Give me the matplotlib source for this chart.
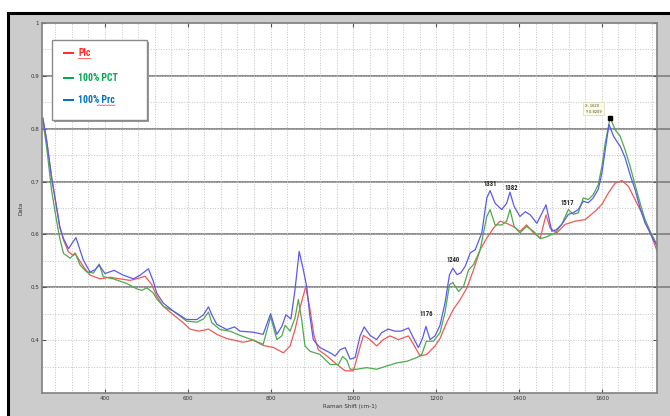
import matplotlib
matplotlib.use("Agg")
import matplotlib.pyplot as plt
from matplotlib.patches import Rectangle
import numpy as np

# Raman spectra (x = Raman shift, y = intensity)
plc_x = [250, 259, 271, 283, 291, 300, 312, 324, 328, 348, 364, 388, 412, 436, 461, 485, 497,
         513, 525, 541, 565, 589, 605, 626, 640, 650, 670, 694, 718, 734, 758, 782, 807, 831,
         847, 859, 871, 885, 895, 905, 915, 936, 960, 980, 1000, 1012, 1024, 1040, 1056, 1072,
         1088, 1109, 1133, 1145, 1161, 1177, 1197, 1209, 1225, 1241, 1258, 1274, 1290, 1306,
         1322, 1338, 1354, 1370, 1386, 1402, 1418, 1435, 1451, 1465, 1475, 1491, 1511, 1535,
         1559, 1584, 1600, 1616, 1632, 1648, 1664, 1680, 1696, 1712, 1735]
plc_y = [0.820, 0.779, 0.709, 0.652, 0.614, 0.589, 0.567, 0.560, 0.564, 0.539, 0.523, 0.516,
         0.519, 0.516, 0.513, 0.518, 0.521, 0.505, 0.483, 0.464, 0.448, 0.433, 0.421, 0.417,
         0.419, 0.421, 0.411, 0.403, 0.399, 0.396, 0.400, 0.390, 0.386, 0.376, 0.389, 0.420,
         0.461, 0.502, 0.458, 0.408, 0.382, 0.370, 0.354, 0.342, 0.342, 0.376, 0.409, 0.401,
         0.389, 0.401, 0.408, 0.401, 0.408, 0.392, 0.370, 0.373, 0.389, 0.403, 0.433, 0.458,
         0.477, 0.499, 0.533, 0.571, 0.593, 0.612, 0.625, 0.621, 0.615, 0.606, 0.618, 0.603,
         0.593, 0.637, 0.612, 0.603, 0.619, 0.625, 0.628, 0.644, 0.657, 0.679, 0.697, 0.702,
         0.691, 0.666, 0.641, 0.613, 0.565]

pct_x = [250, 259, 271, 283, 291, 300, 316, 328, 340, 356, 372, 386, 396, 420, 453, 477, 489,
         501, 517, 525, 541, 565, 597, 622, 638, 650, 658, 678, 702, 726, 758, 782, 800, 815,
         827, 835, 847, 859, 867, 875, 883, 895, 919, 944, 964, 974, 984, 992, 1008, 1032, 1056,
         1080, 1105, 1129, 1153, 1165, 1176, 1193, 1209, 1221, 1232, 1240, 1254, 1266, 1278,
         1290, 1306, 1322, 1330, 1342, 1358, 1370, 1378, 1388, 1402, 1418, 1435, 1451, 1465,
         1487, 1503, 1519, 1531, 1543, 1555, 1567, 1579, 1591, 1600, 1608, 1620, 1632, 1644,
         1656, 1668, 1680, 1692, 1704, 1720, 1735]
pct_y = [0.815, 0.766, 0.684, 0.627, 0.592, 0.564, 0.555, 0.565, 0.542, 0.529, 0.527, 0.544,
         0.520, 0.516, 0.507, 0.497, 0.494, 0.499, 0.489, 0.478, 0.464, 0.455, 0.436, 0.434,
         0.440, 0.453, 0.433, 0.420, 0.417, 0.409, 0.400, 0.392, 0.444, 0.401, 0.408, 0.428,
         0.417, 0.442, 0.477, 0.439, 0.389, 0.379, 0.373, 0.354, 0.354, 0.369, 0.362, 0.345,
         0.345, 0.348, 0.345, 0.351, 0.357, 0.360, 0.367, 0.373, 0.398, 0.398, 0.414, 0.452,
         0.505, 0.509, 0.492, 0.502, 0.533, 0.543, 0.571, 0.634, 0.647, 0.618, 0.618, 0.625,
         0.647, 0.615, 0.603, 0.615, 0.606, 0.592, 0.595, 0.603, 0.619, 0.647, 0.638, 0.641,
         0.669, 0.666, 0.675, 0.694, 0.729, 0.773, 0.8209, 0.798, 0.786, 0.760, 0.729, 0.694,
         0.660, 0.628, 0.600, 0.578]

prc_x = [250, 259, 271, 283, 291, 300, 312, 322, 330, 340, 348, 364, 376, 386, 400, 422, 444,
         469, 485, 505, 517, 525, 541, 565, 597, 622, 638, 650, 658, 670, 694, 713, 726, 758,
         782, 800, 815, 827, 837, 849, 859, 869, 879, 887, 895, 903, 919, 944, 956, 968, 980,
         992, 1004, 1016, 1026, 1040, 1056, 1068, 1084, 1100, 1115, 1133, 1145, 1157, 1167,
         1175, 1185, 1197, 1209, 1221, 1232, 1240, 1250, 1259, 1270, 1282, 1294, 1310, 1322,
         1330, 1342, 1358, 1370, 1378, 1388, 1402, 1415, 1427, 1443, 1455, 1465, 1479, 1490,
         1503, 1519, 1531, 1543, 1555, 1567, 1579, 1591, 1600, 1608, 1617, 1628, 1636, 1644,
         1656, 1668, 1680, 1692, 1704, 1720, 1735]
prc_y = [0.820, 0.779, 0.709, 0.652, 0.614, 0.592, 0.573, 0.585, 0.594, 0.570, 0.551, 0.529,
         0.533, 0.542, 0.526, 0.532, 0.523, 0.516, 0.523, 0.535, 0.511, 0.489, 0.470, 0.455,
         0.439, 0.439, 0.448, 0.463, 0.448, 0.430, 0.420, 0.425, 0.417, 0.415, 0.411, 0.450,
         0.411, 0.426, 0.448, 0.440, 0.496, 0.568, 0.533, 0.502, 0.445, 0.401, 0.386, 0.376,
         0.370, 0.382, 0.386, 0.364, 0.367, 0.408, 0.425, 0.409, 0.401, 0.414, 0.421, 0.417,
         0.417, 0.423, 0.404, 0.386, 0.404, 0.426, 0.401, 0.408, 0.428, 0.470, 0.524, 0.536,
         0.524, 0.527, 0.540, 0.565, 0.571, 0.603, 0.669, 0.683, 0.659, 0.647, 0.659, 0.680,
         0.653, 0.634, 0.643, 0.637, 0.621, 0.640, 0.656, 0.606, 0.609, 0.619, 0.638, 0.641,
         0.647, 0.663, 0.660, 0.669, 0.685, 0.716, 0.760, 0.808, 0.786, 0.776, 0.767, 0.745,
         0.713, 0.685, 0.650, 0.622, 0.597, 0.575]

peak_pos = [1176, 1240, 1331, 1382, 1517]
peak_lbl_y = [0.449, 0.551, 0.695, 0.687, 0.659]

tip_x, tip_y = 1620, 0.8209

xticks = [400, 600, 800, 1000, 1200, 1400, 1600]
yticks = [0.4, 0.5, 0.6, 0.7, 0.8, 0.9, 1.0]
ytick_labels = ['0.4', '0.5', '0.6', '0.7', '0.8', '0.9', '1']

narrow = ['Roboto Condensed', 'DejaVu Sans']

fig = plt.figure(figsize=(6.7, 4.16), dpi=100, facecolor='white')
# grey window panel with black left/top border
fig.add_artist(Rectangle((8 / 670, -0.05), 1.1, (416 - 13) / 416 + 0.05,
                         transform=fig.transFigure, facecolor='#cccccc',
                         edgecolor='black', lw=2.2, zorder=0))

ax = fig.add_axes([42 / 670, 1 - 393 / 416, 615 / 670, 370 / 416])
ax.set_facecolor('white')
ax.set_xlim(248, 1733)
ax.set_ylim(0.3, 1.0)

# grid: dotted minor + major
ax.set_xticks(xticks)
ax.set_xticklabels([str(v) for v in xticks])
ax.set_yticks(yticks)
ax.set_yticklabels(ytick_labels)
ax.set_xticks(np.arange(280, 1733, 40), minor=True)
ax.set_yticks(np.arange(0.35, 1.0, 0.05), minor=True)
ax.grid(which='both', color='#c4c4c4', ls=':', lw=0.7, zorder=0)
ax.tick_params(which='minor', length=0)
ax.tick_params(which='major', direction='in', length=3, top=True, right=True,
               labelsize=4, labelcolor='#333333', color='#555555', pad=2)
for s in ax.spines.values():
    s.set_color('#808080')
    s.set_linewidth(1.2)

# heavy horizontal lines
for yv in [0.5, 0.6, 0.7, 0.8, 0.9]:
    ax.axhline(yv, xmin=0, xmax=1.021, color='#858585', lw=1.3, clip_on=False, zorder=1.5)

ax.plot(plc_x, plc_y, color='#f05858', lw=0.9, zorder=2)
ax.plot(pct_x, pct_y, color='#4cab4c', lw=0.9, zorder=2)
ax.plot(prc_x, prc_y, color='#5a5af2', lw=0.9, zorder=2)

for px, py in zip(peak_pos, peak_lbl_y):
    ax.text(px, py, str(px), ha='center', va='center', fontsize=4.8, fontweight='bold',
            color='#222222', family=narrow, zorder=4)

# data tip
ax.plot([tip_x], [tip_y], marker='s', ms=2.8, color='black', zorder=5)
ax.annotate('X: %d\nY: %.4f' % (tip_x, tip_y), (tip_x, tip_y), xytext=(-18, 3),
            textcoords='offset points', ha='left', va='bottom', fontsize=2.6,
            color='#444444', linespacing=1.4,
            bbox=dict(boxstyle='square,pad=0.5', fc='#fdfbe0', ec='#d8d6b8', lw=0.5), zorder=5)

ax.set_ylabel('Data', fontsize=4, labelpad=5, color='#333333')
ax.set_xlabel('Raman Shift (cm-1)', fontsize=4, labelpad=2, color='#333333')

# legend box (pasted-style)
ax.add_patch(Rectangle((0.0195, 0.733), 0.155, 0.217, transform=ax.transAxes,
                       facecolor='#999999', edgecolor='none', zorder=6, clip_on=False))
ax.add_patch(Rectangle((0.016, 0.738), 0.155, 0.217, transform=ax.transAxes,
                       facecolor='white', edgecolor='#8a8a8a', lw=1.0, zorder=7, clip_on=False))
leg_names = ['Plc', '100% PCT', '100% Prc']
leg_cols = ['#ff2a2a', '#00a651', '#0070c0']
leg_y = [0.918, 0.851, 0.792]
texts = []
for name, col, yy in zip(leg_names, leg_cols, leg_y):
    ax.plot([0.034, 0.052], [yy, yy], transform=ax.transAxes, color=col, lw=1.4,
            zorder=8, clip_on=False, solid_capstyle='butt')
    t = ax.text(0.059, yy, name, transform=ax.transAxes, color=col, fontsize=7,
                fontweight='bold', family=narrow, va='center', ha='left', zorder=8)
    texts.append(t)

# spell-check style underlines
fig.canvas.draw()
inv = fig.transFigure.inverted()
for t, frac in [(texts[0], 0.0), (texts[2], 0.52)]:
    bb = t.get_window_extent()
    x0 = bb.x0 + frac * bb.width
    xs = np.linspace(x0, bb.x1, 12)
    ys = bb.y0 - 0.5 + 0.5 * (np.arange(12) % 2)
    pts = inv.transform(np.column_stack([xs, ys]))
    fig.add_artist(plt.Line2D(pts[:, 0], pts[:, 1], color='#ff3030', lw=0.5, zorder=9))

fig.savefig('out.png', dpi=100, facecolor=fig.get_facecolor())
